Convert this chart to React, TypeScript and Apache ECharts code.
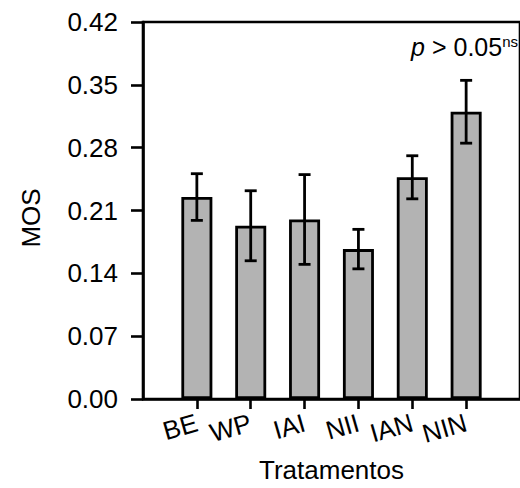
import React, { useEffect, useRef } from "react";
import * as echarts from "echarts";

const categories = ["BE", "WP", "IAI", "NII", "IAN", "NIN"];
const positions = [1, 2, 3, 4, 5, 6];
const means = [0.225, 0.193, 0.2, 0.167, 0.247, 0.32];
const errors = [0.026, 0.039, 0.05, 0.022, 0.024, 0.035];
const yTicks = [0, 0.07, 0.14, 0.21, 0.28, 0.35, 0.42];

const FONT = "Liberation Sans, Arial, sans-serif";

export default function App() {
  const ref = useRef<HTMLDivElement>(null);
  useEffect(() => {
    document.body.style.margin = "0";
    if (!ref.current) return;
    const chart = echarts.init(ref.current, null, { renderer: "svg" });
    const barData = positions.map((p, i) => [p, means[i]]);
    const errData = positions.map((p, i) => [p, means[i] - errors[i], means[i] + errors[i]]);
    chart.setOption({
      animation: false,
      backgroundColor: "#ffffff",
      grid: {
        left: 143,
        top: 22,
        right: -2,
        bottom: 89,
        show: true,
        borderColor: "#000",
        borderWidth: 2.6,
        backgroundColor: "transparent",
      },
      xAxis: {
        type: "value",
        min: 0,
        max: 7,
        interval: 1,
        name: "Tratamentos",
        nameLocation: "middle",
        nameGap: 58,
        nameTextStyle: { fontFamily: FONT, fontSize: 26, color: "#000" },
        splitLine: { show: false },
        axisLine: { show: true, lineStyle: { color: "#000", width: 2.6 } },
        axisTick: {
          show: true,
          length: 10,
          inside: false,
          lineStyle: { color: "#000", width: 2.6 },
          customValues: positions,
        },
        axisLabel: {
          customValues: positions,
          formatter: (v: number) => categories[positions.indexOf(v)] ?? "",
          rotate: 16,
          margin: 23,
          fontFamily: FONT,
          fontSize: 26,
          color: "#000",
        },
      },
      yAxis: {
        type: "value",
        min: 0,
        max: 0.42,
        interval: 0.07,
        splitLine: { show: false },
        axisLine: { show: true, lineStyle: { color: "#000", width: 2.6 } },
        axisTick: { show: true, length: 12, lineStyle: { color: "#000", width: 2.6 } },
        axisLabel: {
          customValues: yTicks,
          formatter: (v: number) => v.toFixed(2),
          margin: 25,
          fontFamily: FONT,
          fontSize: 26,
          color: "#000",
        },
      },
      graphic: [
        {
          type: "text",
          x: 31,
          y: 218,
          rotation: Math.PI / 2,
          style: {
            text: "MOS",
            fontFamily: FONT,
            fontSize: 26,
            fill: "#000",
            align: "center",
            verticalAlign: "middle",
          },
        },
        {
          type: "text",
          x: 518,
          y: 47,
          style: {
            text: "{i|p} > 0.05{s|ns}",
            align: "right",
            verticalAlign: "middle",
            fontFamily: FONT,
            fontSize: 25,
            fill: "#000",
            rich: {
              i: { fontStyle: "italic", fontFamily: FONT, fontSize: 25, fill: "#000" },
              s: { fontFamily: FONT, fontSize: 15, fill: "#000", verticalAlign: "top", padding: [0, 0, 12, 0] },
            },
          },
        },
      ],
      series: [
        {
          type: "bar",
          data: barData,
          barWidth: 31,
          itemStyle: { color: "#b3b3b3", borderColor: "#000", borderWidth: 2.8 },
          z: 2,
        },
        {
          type: "custom",
          data: errData,
          z: 3,
          renderItem: (params: any, api: any) => {
            const x = api.value(0);
            const lo = api.coord([x, api.value(1)]);
            const hi = api.coord([x, api.value(2)]);
            const hw = 6;
            const style = { stroke: "#000", lineWidth: 2.8 };
            return {
              type: "group",
              children: [
                { type: "line", shape: { x1: lo[0], y1: lo[1], x2: hi[0], y2: hi[1] }, style },
                { type: "line", shape: { x1: lo[0] - hw, y1: lo[1], x2: lo[0] + hw, y2: lo[1] }, style },
                { type: "line", shape: { x1: hi[0] - hw, y1: hi[1], x2: hi[0] + hw, y2: hi[1] }, style },
              ],
            };
          },
        },
      ],
    });
    return () => chart.dispose();
  }, []);
  return <div ref={ref} style={{ width: 520, height: 488 }} />;
}
